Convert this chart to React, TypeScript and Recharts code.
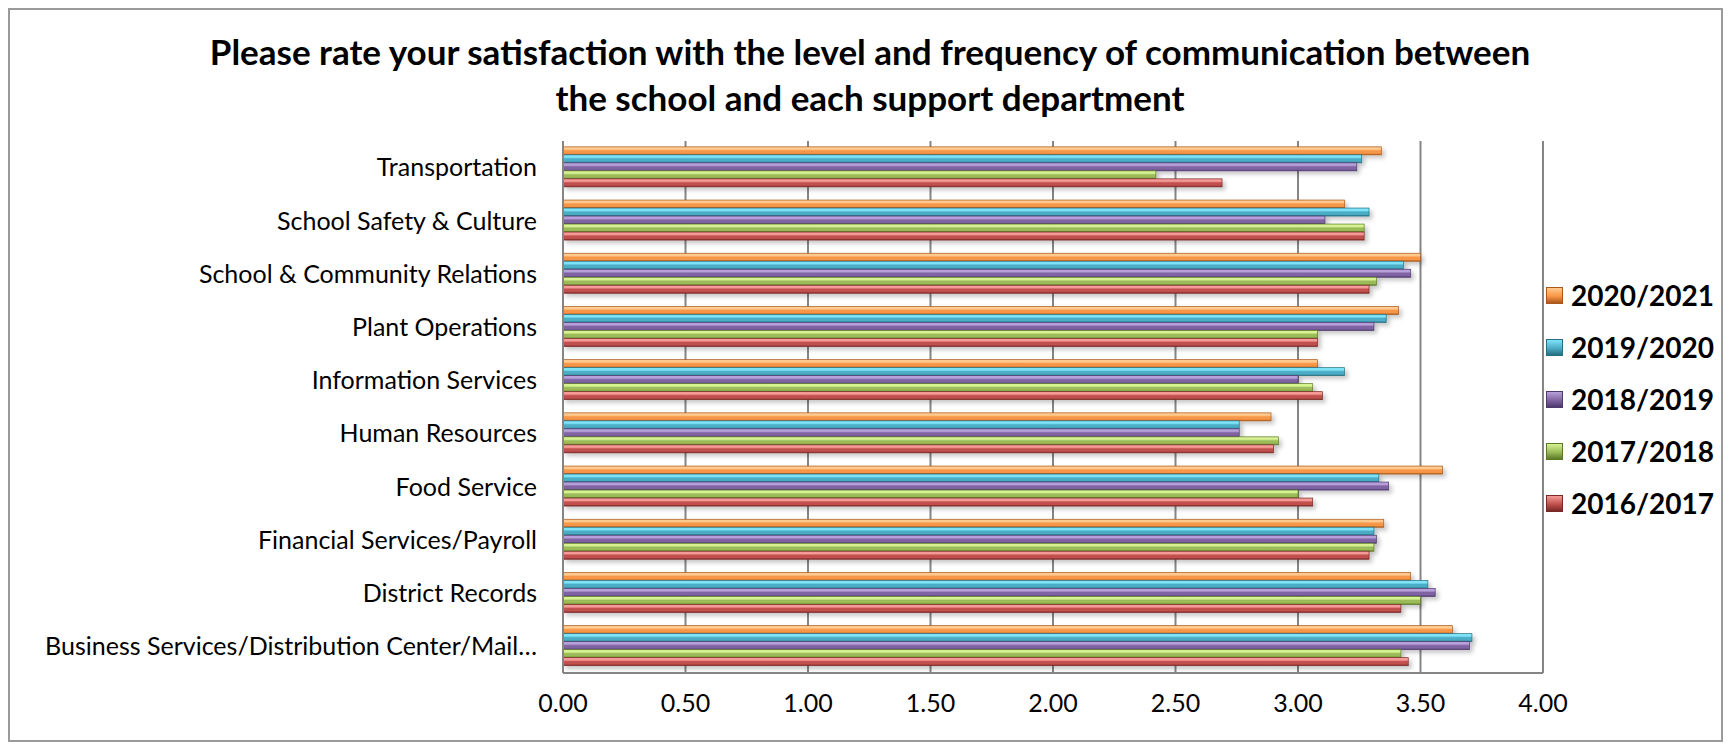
import React from 'react';
import { BarChart, Bar, XAxis, YAxis, CartesianGrid, Legend } from 'recharts';

const categories = [
  'Transportation',
  'School Safety & Culture',
  'School & Community Relations',
  'Plant Operations',
  'Information Services',
  'Human Resources',
  'Food Service',
  'Financial Services/Payroll',
  'District Records',
  'Business Services/Distribution Center/Mail…',
];
const y2020_2021 = [3.34, 3.19, 3.5, 3.41, 3.08, 2.89, 3.59, 3.35, 3.46, 3.63];
const y2019_2020 = [3.26, 3.29, 3.43, 3.36, 3.19, 2.76, 3.33, 3.31, 3.53, 3.71];
const y2018_2019 = [3.24, 3.11, 3.46, 3.31, 3.0, 2.76, 3.37, 3.32, 3.56, 3.7];
const y2017_2018 = [2.42, 3.27, 3.32, 3.08, 3.06, 2.92, 3.0, 3.31, 3.5, 3.42];
const y2016_2017 = [2.69, 3.27, 3.29, 3.08, 3.1, 2.9, 3.06, 3.29, 3.42, 3.45];
const xTicks = [0, 0.5, 1, 1.5, 2, 2.5, 3, 3.5, 4];
const titleLines = [
  'Please rate your satisfaction with the level and frequency of communication between',
  'the school and each support department',
];

const series = [
  { key: 's2021', name: '2020/2021', values: y2020_2021, light: '#FFC98F', base: '#F79646', dark: '#A8581A' },
  { key: 's2020', name: '2019/2020', values: y2019_2020, light: '#7FE3F8', base: '#4BACC6', dark: '#246F82' },
  { key: 's2019', name: '2018/2019', values: y2018_2019, light: '#B7A0DA', base: '#8064A2', dark: '#4E3A6E' },
  { key: 's2018', name: '2017/2018', values: y2017_2018, light: '#D6F292', base: '#9BBB59', dark: '#5C7A26' },
  { key: 's2017', name: '2016/2017', values: y2016_2017, light: '#F59A96', base: '#C0504D', dark: '#7A2826' },
];

const data = categories.map((c, i) => {
  const row: Record<string, any> = { category: c };
  series.forEach((s) => (row[s.key] = s.values[i]));
  return row;
});

const FONT = 'Lato, "Open Sans", sans-serif';

const BevelBar = (props: any) => {
  const { x, y, width, height, gradId, edge } = props;
  if (!width || width <= 0) return null;
  return (
    <g filter="url(#barShadow)">
      <rect x={x} y={y} width={width} height={height} fill={`url(#${gradId})`} stroke={edge} strokeWidth={0.7} />
    </g>
  );
};

const LegendContent = () => (
  <div style={{ fontFamily: FONT }}>
    {series.map((s) => (
      <div key={s.key} style={{ display: 'flex', alignItems: 'center', height: 52 }}>
        <div
          style={{
            width: 17,
            height: 17,
            boxSizing: 'border-box',
            border: `1px solid ${s.dark}`,
            background: `linear-gradient(to bottom, ${s.light} 0%, ${s.base} 55%, ${s.dark} 100%)`,
            marginRight: 8,
          }}
        />
        <span style={{ fontSize: 28, fontWeight: 700, color: '#000' }}>{s.name}</span>
      </div>
    ))}
  </div>
);

export default function App() {
  const W = 1715;
  const H = 734;
  return (
    <div style={{ position: 'relative', width: W, height: H }}>
      <div
        style={{
          position: 'absolute',
          left: 0,
          top: 0,
          width: W,
          height: H,
          boxSizing: 'border-box',
          border: '2px solid #9a9a9a',
        }}
      />
      <div
        style={{
          position: 'absolute',
          left: 0,
          top: 20,
          width: 1724,
          textAlign: 'center',
          fontFamily: FONT,
          fontWeight: 700,
          fontSize: 35,
          lineHeight: '46px',
          color: '#000',
        }}
      >
        {titleLines.map((l) => (
          <div key={l}>{l}</div>
        ))}
      </div>
      <div style={{ position: 'absolute', left: 0, top: 0 }}>
        <BarChart
          width={W}
          height={H}
          data={data}
          layout="vertical"
          margin={{ top: 133, right: 180, bottom: 29, left: 0 }}
          barCategoryGap="11%"
          barGap={0}
        >
          <defs>
            {series.map((s) => (
              <linearGradient key={s.key} id={`g_${s.key}`} x1="0" y1="0" x2="0" y2="1">
                <stop offset="0%" stopColor={s.light} />
                <stop offset="30%" stopColor={s.light} />
                <stop offset="50%" stopColor={s.base} />
                <stop offset="80%" stopColor={s.base} />
                <stop offset="100%" stopColor={s.dark} />
              </linearGradient>
            ))}
            <filter id="barShadow" x="-5%" y="-60%" width="112%" height="260%">
              <feDropShadow dx="3" dy="3" stdDeviation="2" floodColor="#000" floodOpacity="0.22" />
            </filter>
          </defs>
          <CartesianGrid horizontal={false} vertical stroke="#858585" strokeWidth={2} />
          <XAxis
            type="number"
            domain={[0, 4]}
            ticks={xTicks}
            tickFormatter={(v: number) => v.toFixed(2)}
            axisLine={{ stroke: '#858585', strokeWidth: 2 }}
            tickLine={false}
            tickMargin={15}
            height={40}
            tick={{ fill: '#000', fontSize: 25, fontFamily: FONT }}
            interval={0}
          />
          <YAxis
            type="category"
            dataKey="category"
            width={555}
            axisLine={{ stroke: '#858585', strokeWidth: 2 }}
            tickLine={false}
            tickMargin={20}
            tick={{ fill: '#000', fontSize: 25, fontFamily: FONT }}
            interval={0}
          />
          <Legend
            layout="vertical"
            align="center"
            verticalAlign="middle"
            content={<LegendContent />}
            wrapperStyle={{ left: 1538, top: 261, width: 180, height: 260 }}
          />
          {series.map((s) => (
            <Bar
              key={s.key}
              dataKey={s.key}
              name={s.name}
              fill={s.base}
              isAnimationActive={false}
              shape={(p: any) => <BevelBar {...p} gradId={`g_${s.key}`} edge={s.dark} />}
            />
          ))}
        </BarChart>
      </div>
    </div>
  );
}
